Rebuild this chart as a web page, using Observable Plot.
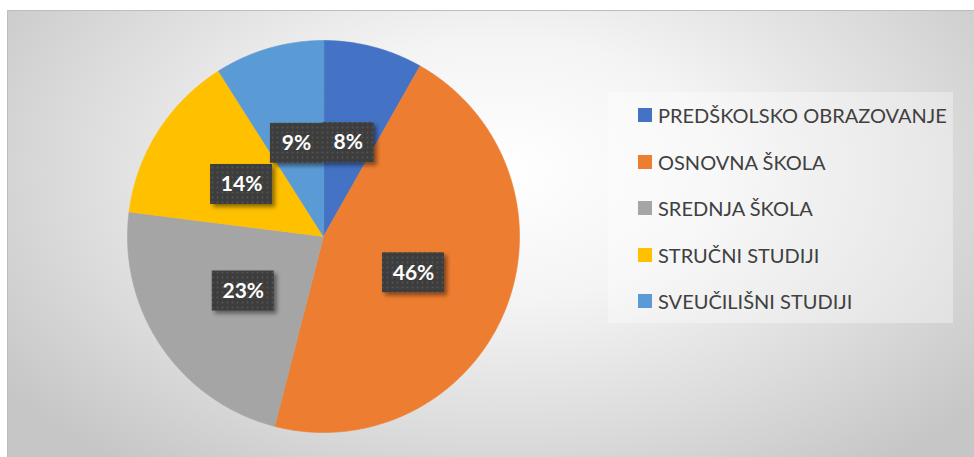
<!DOCTYPE html>
<html>
<head>
<meta charset="utf-8">
<script src="https://cdn.jsdelivr.net/npm/d3@7"></script>
<script src="https://cdn.jsdelivr.net/npm/@observablehq/plot@0.6"></script>
<style>
  html, body { margin: 0; padding: 0; background: #ffffff; overflow: hidden; }
  #frame {
    position: absolute; left: 7px; top: 10px; width: 990px; height: 470px;
    border: 1px solid #bdbdbd; box-sizing: border-box;
    background: radial-gradient(ellipse 62% 80% at 50% 34%, #ffffff 0%, #f4f4f4 35%, #dcdcdc 70%, #c6c6c6 100%);
  }
  #chart { position: absolute; left: 0; top: 0; }
  #legendbox {
    position: absolute; left: 608px; top: 92px; width: 345px; height: 231px;
    background: rgba(255,255,255,0.35);
  }
  #legendbox .lg-swatch { height: 46.5px; display: flex; align-items: center; margin: 0 !important; padding: 0 !important; }
  #legendbox .lg-swatches { margin: 0 !important; padding-left: 30px; padding-top: 0px; font-family: Lato, "Noto Sans", sans-serif; font-size: 20px; color: #404040; }
  #legendbox svg { margin-right: 6px !important; }
</style>
</head>
<body>
<div id="frame"></div>
<div id="chart"></div>
<div id="legendbox"></div>
<script>
const categories = ["PREDŠKOLSKO OBRAZOVANJE", "OSNOVNA ŠKOLA", "SREDNJA ŠKOLA", "STRUČNI STUDIJI", "SVEUČILIŠNI STUDIJI"];
const values = [8.2, 45.8, 23, 14, 9];
const valueLabels = ["8%", "46%", "23%", "14%", "9%"];
const colors = ["#4472C4", "#ED7D31", "#A5A5A5", "#FFC000", "#5B9BD5"];

const W = 974, H = 457;
const cx = 323, cy = 236, R = 196;
const labelRadius = 0.495;

const total = d3.sum(values);
const slicePoints = [];
const labelData = [];
let acc = 0;
categories.forEach((cat, i) => {
  const a0 = acc / total * 2 * Math.PI;
  acc += values[i];
  const a1 = acc / total * 2 * Math.PI;
  slicePoints.push({cat, x: 0, y: 0});
  const n = Math.max(2, Math.ceil((a1 - a0) / (Math.PI / 360)));
  for (let k = 0; k <= n; k++) {
    const a = a0 + (a1 - a0) * k / n;
    slicePoints.push({cat, x: Math.sin(a), y: Math.cos(a)});
  }
  const am = (a0 + a1) / 2;
  labelData.push({cat, label: valueLabels[i], x: labelRadius * Math.sin(am), y: labelRadius * Math.cos(am), wide: valueLabels[i].length > 2});
});

const plot = Plot.plot({
  width: W, height: H,
  margin: 0,
  style: {background: "transparent", overflow: "visible"},
  x: {domain: [-1, 1], range: [cx - R, cx + R], axis: null},
  y: {domain: [-1, 1], range: [cy + R, cy - R], axis: null},
  color: {domain: categories, range: colors},
  marks: [
    Plot.line(slicePoints, {x: "x", y: "y", z: "cat", fill: "cat", stroke: "cat", strokeWidth: 0.6, curve: "linear-closed"}),
    Plot.rect(labelData.filter(d => d.wide), {x1: "x", x2: "x", y1: "y", y2: "y", insetLeft: -31, insetRight: -31, insetTop: -20, insetBottom: -20, fill: "url(#dots)", className: "lbox"}),
    Plot.rect(labelData.filter(d => !d.wide), {x1: "x", x2: "x", y1: "y", y2: "y", insetLeft: -26, insetRight: -26, insetTop: -20, insetBottom: -20, fill: "url(#dots)", className: "lbox"}),
    Plot.text(labelData, {x: "x", y: "y", text: "label", fill: "white", fontSize: 21, fontWeight: "bold", fontFamily: "Lato, 'Noto Sans', sans-serif"})
  ]
});

const svg = d3.select(plot);
const defs = svg.insert("defs", ":first-child");
const pat = defs.append("pattern").attr("id", "dots").attr("patternUnits", "userSpaceOnUse").attr("width", 5).attr("height", 5);
pat.append("rect").attr("width", 5).attr("height", 5).attr("fill", "#3d3d3d");
pat.append("circle").attr("cx", 2.5).attr("cy", 2.5).attr("r", 0.9).attr("fill", "#555555");
const f = defs.append("filter").attr("id", "shadow").attr("x", "-30%").attr("y", "-30%").attr("width", "160%").attr("height", "160%");
f.append("feDropShadow").attr("dx", 3).attr("dy", 3).attr("stdDeviation", 2).attr("flood-color", "#000").attr("flood-opacity", 0.45);
svg.selectAll("g.lbox, g[aria-label='rect']").attr("filter", "url(#shadow)");

document.getElementById("chart").appendChild(plot);

const legend = Plot.legend({
  color: {domain: categories, range: colors},
  legend: "swatches",
  columns: 1,
  swatchSize: 14,
  className: "lg"
});
document.getElementById("legendbox").appendChild(legend);
</script>
</body>
</html>
